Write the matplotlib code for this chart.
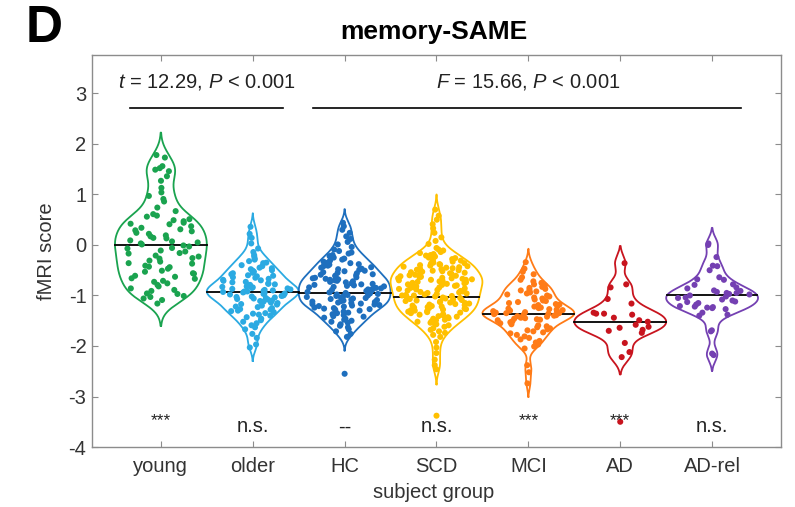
import numpy as np
import matplotlib
matplotlib.use("Agg")
import matplotlib.pyplot as plt

plt.rcParams['font.family'] = ['Liberation Sans', 'DejaVu Sans']
plt.rcParams['mathtext.fontset'] = 'custom'
plt.rcParams['mathtext.it'] = 'Liberation Sans:italic'
plt.rcParams['mathtext.rm'] = 'Liberation Sans'
plt.rcParams['axes.unicode_minus'] = False

# Data
groups = ['young', 'older', 'HC', 'SCD', 'MCI', 'AD', 'AD-rel']
colors = ['#1AA34F', '#2BAAE2', '#1E6FBE', '#FFC000', '#FF7B17', '#C8141E', '#7440B2']

young = [1.78, 1.73, 1.56, 1.52, 1.49, 1.46, 1.36, 1.27, 1.13, 1.04, 0.97, 0.91, 0.86, 0.74,
         0.67, 0.61, 0.58, 0.56, 0.51, 0.49, 0.47, 0.44, 0.42, 0.41, 0.37, 0.34, 0.31, 0.29,
         0.27, 0.24, 0.22, 0.19, 0.17, 0.14, 0.13, 0.09, 0.07, 0.05, 0.03, 0.01, -0.01,
         -0.03, -0.06, -0.07, -0.11, -0.13, -0.16, -0.17, -0.21, -0.23, -0.26, -0.27, -0.31,
         -0.33, -0.36, -0.37, -0.41, -0.43, -0.44, -0.47, -0.51, -0.53, -0.56, -0.57, -0.61,
         -0.63, -0.66, -0.67, -0.71, -0.73, -0.76, -0.79, -0.82, -0.86, -0.89,
         -0.91, -0.96, -0.97, -1.01, -1.03, -1.06, -1.09, -1.16]
older = [0.36, 0.22, 0.14, 0.03, -0.07, -0.14, -0.2, -0.23, -0.27, -0.29, -0.32, -0.35,
         -0.36, -0.4, -0.42, -0.45, -0.46, -0.48, -0.5, -0.51, -0.53, -0.55, -0.56, -0.58,
         -0.6, -0.61, -0.62, -0.64, -0.65, -0.67, -0.69, -0.7, -0.71, -0.73, -0.74, -0.76,
         -0.77, -0.78, -0.79, -0.8, -0.81, -0.82, -0.83, -0.84, -0.85, -0.86, -0.87, -0.88,
         -0.89, -0.9, -0.91, -0.92, -0.92, -0.93, -0.94, -0.95, -0.96, -0.97, -0.98, -0.99,
         -1.0, -1.01, -1.02, -1.03, -1.04, -1.05, -1.06, -1.07, -1.08, -1.1, -1.11, -1.12,
         -1.14, -1.15, -1.17, -1.18, -1.2, -1.22, -1.23, -1.25, -1.27, -1.28, -1.3, -1.31,
         -1.33, -1.35, -1.36, -1.38, -1.4, -1.43, -1.46, -1.49, -1.52, -1.55, -1.59, -1.63,
         -1.67, -1.76, -1.84, -1.97, -2.03]
hc = [0.44, 0.37, 0.3, 0.24, 0.17, 0.12, 0.06, 0.01, -0.04, -0.09, -0.12, -0.15, -0.17,
      -0.2, -0.22, -0.25, -0.27, -0.29, -0.31, -0.33, -0.35, -0.36, -0.38, -0.39, -0.41,
      -0.42, -0.44, -0.45, -0.47, -0.48, -0.49, -0.51, -0.52, -0.54, -0.55, -0.56, -0.58,
      -0.59, -0.6, -0.61, -0.62, -0.64, -0.65, -0.66, -0.67, -0.68, -0.69, -0.7, -0.71,
      -0.72, -0.73, -0.74, -0.75, -0.76, -0.77, -0.78, -0.79, -0.8, -0.81, -0.82, -0.83,
      -0.84, -0.85, -0.86, -0.87, -0.88, -0.89, -0.9, -0.91, -0.92, -0.93, -0.94, -0.95,
      -0.96, -0.97, -0.98, -0.99, -1.0, -1.01, -1.02, -1.03, -1.04, -1.05, -1.06, -1.07,
      -1.08, -1.09, -1.1, -1.11, -1.12, -1.13, -1.14, -1.15, -1.16, -1.17, -1.18, -1.19,
      -1.2, -1.21, -1.22, -1.24, -1.25, -1.26, -1.27, -1.28, -1.3, -1.32, -1.34, -1.35,
      -1.37, -1.39, -1.41, -1.42, -1.44, -1.46, -1.48, -1.5, -1.52, -1.54, -1.57, -1.6,
      -1.63, -1.67, -1.71, -1.76, -1.82]
scd = [0.7, 0.58, 0.5, 0.41, 0.33, 0.24, 0.15, 0.08, 0.02, -0.06, -0.09, -0.11, -0.14,
       -0.16, -0.18, -0.2, -0.21, -0.23, -0.25, -0.26, -0.28, -0.29, -0.31, -0.32, -0.33,
       -0.35, -0.36, -0.37, -0.38, -0.39, -0.4, -0.41, -0.42, -0.43, -0.44, -0.45, -0.46,
       -0.47, -0.48, -0.49, -0.5, -0.51, -0.52, -0.53, -0.54, -0.55, -0.56, -0.57, -0.58,
       -0.59, -0.6, -0.61, -0.62, -0.63, -0.64, -0.65, -0.66, -0.66, -0.67, -0.68, -0.69,
       -0.69, -0.7, -0.71, -0.72, -0.72, -0.73, -0.74, -0.75, -0.76, -0.77, -0.78, -0.79,
       -0.8, -0.81, -0.82, -0.83, -0.83, -0.84, -0.85, -0.86, -0.87, -0.88, -0.89, -0.9,
       -0.91, -0.92, -0.93, -0.94, -0.95, -0.96, -0.97, -0.98, -0.99, -1.0, -1.0, -1.01,
       -1.02, -1.03, -1.04, -1.05, -1.06, -1.07, -1.08, -1.09, -1.1, -1.11, -1.12, -1.13,
       -1.14, -1.15, -1.16, -1.17, -1.18, -1.19, -1.2, -1.21, -1.22, -1.23, -1.24, -1.25,
       -1.26, -1.27, -1.28, -1.29, -1.3, -1.31, -1.32, -1.33, -1.34, -1.35, -1.37, -1.38,
       -1.39, -1.41, -1.42, -1.43, -1.45, -1.46, -1.48, -1.49, -1.51, -1.52, -1.54, -1.55,
       -1.57, -1.59, -1.62, -1.65, -1.68, -1.71, -1.74, -1.78, -1.82, -1.92, -2.03, -2.14,
       -2.27, -2.38, -2.46]
mci = [-0.34, -0.47, -0.53, -0.58, -0.64, -0.69, -0.72, -0.75, -0.78, -0.8, -0.83, -0.85,
       -0.87, -0.89, -0.9, -0.92, -0.94, -0.96, -0.98, -1.0, -1.02, -1.04, -1.06, -1.08,
       -1.1, -1.11, -1.13, -1.15, -1.17, -1.18, -1.19, -1.21, -1.22, -1.24, -1.25, -1.26,
       -1.27, -1.28, -1.29, -1.3, -1.31, -1.32, -1.33, -1.34, -1.35, -1.35, -1.36, -1.37,
       -1.38, -1.39, -1.4, -1.41, -1.42, -1.43, -1.44, -1.45, -1.46, -1.47, -1.48, -1.49,
       -1.51, -1.53, -1.55, -1.57, -1.59, -1.61, -1.63, -1.65, -1.67, -1.69, -1.71, -1.73,
       -1.75, -1.78, -1.81, -1.84, -1.87, -1.9, -1.93, -1.97, -2.01, -2.05, -2.38, -2.52,
       -2.74]
ad = [-0.36, -0.78, -0.84, -1.07, -1.16, -1.34, -1.36, -1.36, -1.38, -1.44, -1.49, -1.52,
      -1.58, -1.62, -1.64, -1.68, -1.7, -1.74, -1.94, -2.12, -2.22]
adrel = [0.03, 0.0, -0.24, -0.41, -0.42, -0.5, -0.64, -0.68, -0.69, -0.78, -0.79, -0.84,
         -0.86, -0.9, -0.91, -0.93, -0.95, -0.95, -0.97, -0.98, -1.0, -1.02, -1.04, -1.05,
         -1.08, -1.1, -1.12, -1.13, -1.15, -1.18, -1.21, -1.22, -1.23, -1.24, -1.25, -1.27,
         -1.34, -1.38, -1.4, -1.69, -1.71, -2.15, -2.18]
values = [young, older, hc, scd, mci, ad, adrel]
outliers = [[], [], [-2.55], [-3.38], [], [-3.5], []]
group_means = [0.0, -0.93, -0.96, -1.03, -1.37, -1.53, -0.99]
sig_labels = ['***', 'n.s.', '--', 'n.s.', '***', '***', 'n.s.']

fig = plt.figure(figsize=(7.95, 5.07), dpi=100)
ax = fig.add_axes([0.1157, 0.1183, 0.8667, 0.7732])

for i, (vals, col) in enumerate(zip(values, colors)):
    pos = i + 1
    v = np.asarray(vals)
    bw = 0.6 * 1.06 * v.std() * len(v) ** -0.2
    grid = np.linspace(v.min() - 2.3 * bw, v.max() + 2.3 * bw, 300)
    dens = np.exp(-0.5 * ((grid[:, None] - v[None, :]) / bw) ** 2).sum(axis=1)
    half = 0.5 * dens / dens.max()
    # violin outline
    xs = np.concatenate([[pos], pos - half, [pos], (pos + half)[::-1], [pos]])
    ys = np.concatenate([[grid[0]], grid, [grid[-1]], grid[::-1], [grid[0]]])
    ax.plot(xs, ys, color=col, lw=1.3, zorder=2)
    # mean line
    wm = np.interp(group_means[i], grid, half)
    ax.plot([pos - wm, pos + wm], [group_means[i]] * 2, color='black', lw=1.3, zorder=3)
    # spread points across the violin width (deterministic hash, no RNG)
    k = np.arange(len(v))
    u = (np.sin(k * 12.9898 + (i + 1) * 78.233) * 43758.5453) % 1.0
    xj = pos + (2 * u - 1) * 0.87 * np.interp(v, grid, half)
    ax.scatter(xj, v, s=19, color=col, edgecolors='none', zorder=4)
    if outliers[i]:
        ax.scatter([pos] * len(outliers[i]), outliers[i], s=19, color=col,
                   edgecolors='none', zorder=4)
    star = sig_labels[i] == '***'
    ax.text(pos, -3.47 if star else -3.6, sig_labels[i], ha='center', va='center',
            fontsize=12.5 if star else 14.5, color='#222222', zorder=5)

# statistics annotations
ax.plot([0.663, 2.326], [2.72, 2.72], color='black', lw=1.2)
ax.plot([2.652, 7.315], [2.72, 2.72], color='black', lw=1.2)
ax.text(1.5, 3.22, r'$t$ = 12.29, $P$ < 0.001', ha='center', va='center', fontsize=14.5, color='#222222')
ax.text(5.0, 3.22, r'$F$ = 15.66, $P$ < 0.001', ha='center', va='center', fontsize=14.5, color='#222222')

ax.set_xlim(0.25, 7.75)
ax.set_ylim(-4, 3.76)
ax.set_xticks(range(1, 8))
ax.set_xticklabels(groups)
ax.set_yticks(range(-4, 4))
ax.tick_params(direction='in', length=4, width=0.8, top=True, right=True,
               labelsize=14.5, colors='#8c8c8c', labelcolor='#333333')
ax.tick_params(axis='x', pad=7)
ax.tick_params(axis='y', pad=4)
for sp in ax.spines.values():
    sp.set_color('#8c8c8c')
    sp.set_linewidth(1.0)

fig.text(47 / 795, 1 - 251 / 507, 'fMRI score', rotation=90, ha='center', va='center',
         fontsize=14.5, color='#333333')
fig.text(434 / 795, 1 - 493 / 507, 'subject group', ha='center', va='center',
         fontsize=14.5, color='#333333')
fig.text(434 / 795, 1 - 32 / 507, 'memory-SAME', ha='center', va='center',
         fontsize=19, fontweight='bold')
fig.text(0.032, 0.992, 'D', ha='left', va='top', fontsize=37, fontweight='bold')

fig.savefig('out.png', dpi=100)
